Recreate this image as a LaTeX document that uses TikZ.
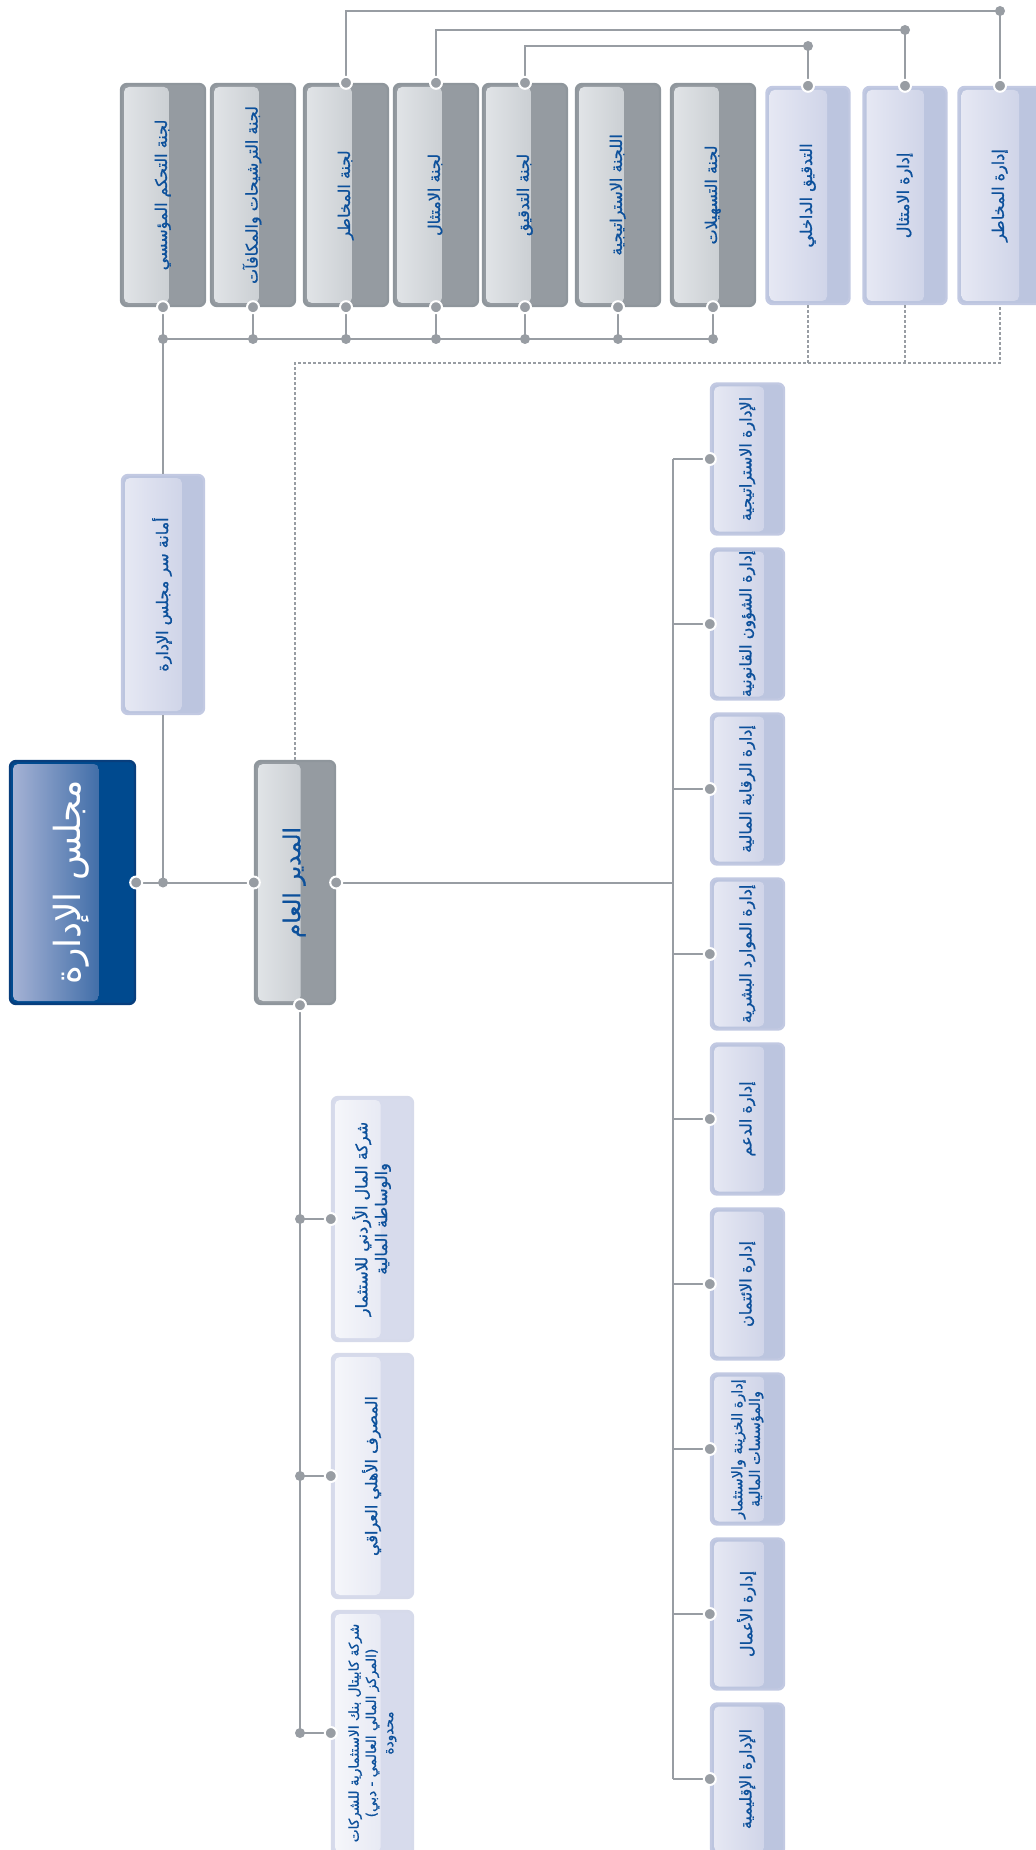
\documentclass[tikz,border=0pt]{standalone}
\usepackage{fontspec}
\usepackage{graphicx}
\usepackage{tikz}
\usetikzlibrary{positioning,calc}
\TeXXeTstate=1
\newfontfamily\arabicfont[Script=Arabic, FakeBold=1]{DejaVu Sans}
\newfontfamily\arabicplain[Script=Arabic]{DejaVu Sans}
\definecolor{CB_line}{RGB}{152,157,163}
\definecolor{CB_text}{RGB}{12,80,155}
\definecolor{CB_grayedge}{RGB}{143,150,156}
\definecolor{CB_graydark}{RGB}{149,155,161}
\definecolor{CB_graylight}{RGB}{226,229,232}
\definecolor{CB_graymid}{RGB}{186,191,196}
\definecolor{CB_blueedge}{RGB}{194,201,226}
\definecolor{CB_bluefill}{RGB}{188,197,223}
\definecolor{CB_bluelight}{RGB}{231,233,244}
\definecolor{CB_bluemid}{RGB}{199,205,228}
\definecolor{CB_subedge}{RGB}{214,218,234}
\definecolor{CB_subfill}{RGB}{215,219,236}
\definecolor{CB_sublight}{RGB}{246,247,251}
\definecolor{CB_submid}{RGB}{222,225,239}
\definecolor{CB_navy}{RGB}{0,74,143}
\definecolor{CB_navyedge}{RGB}{8,62,125}
\definecolor{CB_navylight}{RGB}{168,180,214}
\definecolor{CB_navymid}{RGB}{24,82,150}
\newcommand{\arline}[1]{\beginR #1\endR}
\newcommand{\vlabel}[1]{\rotatebox{90}{\begin{tabular}{@{}c@{}}#1\end{tabular}}}
\newcommand{\boxfont}{\arabicfont\fontsize{8pt}{9.8pt}\selectfont}
\tikzset{
  panel/.style n args={3}{path picture={
      \fill[left color=#1, right color=#2, rounded corners=2.5pt]
        ([shift={(1.5pt,-1.5pt)}]path picture bounding box.north west) rectangle
        ($(path picture bounding box.south west)!#3!(path picture bounding box.south east)+(0,1.5pt)$);}},
  orgbox/.style={rectangle, rounded corners=3pt, line width=1.2pt, inner sep=0pt,
      text=CB_text, font=\boxfont},
  gbox/.style={orgbox, draw=CB_grayedge, fill=CB_graydark, panel={CB_graylight}{CB_graymid}{0.57}},
  bbox/.style={orgbox, draw=CB_blueedge, fill=CB_bluefill, panel={CB_bluelight}{CB_bluemid}{0.73}},
  sbox/.style={orgbox, draw=CB_subedge, fill=CB_subfill, panel={CB_sublight}{CB_submid}{0.6}},
  boardbox/.style={orgbox, draw=CB_navyedge, fill=CB_navy, panel={CB_navylight}{CB_navymid}{0.71},
      text=white, font=\arabicplain\fontsize{18pt}{21pt}\selectfont},
  comsize/.style={minimum width=42pt, minimum height=111pt},
  mgmtsize/.style={minimum width=41.5pt, minimum height=108.5pt},
  deptsize/.style={minimum width=36.5pt, minimum height=75.5pt},
  subsize/.style={minimum width=40.5pt, minimum height=122pt},
  link/.style={draw=CB_line, line width=1pt},
  dotlink/.style={draw=CB_line, line width=0.7pt, dash pattern=on 1.4pt off 1.1pt},
  ringdot/.style={fill=CB_line, draw=white, line width=1pt},
  jdot/.style={fill=CB_line}
}
\begin{document}
\begin{tikzpicture}[x=0.5pt, y=-0.5pt]
  \useasboundingbox (0,0) rectangle (1035,1850);
  % Board, general manager, secretariat
  \node[boardbox, minimum width=62.5pt, minimum height=121.5pt] (board) at (72.5,882.5)
    {\vlabel{\arline{مجلس الإدارة}}};
  \node[gbox, minimum width=40pt, minimum height=121.5pt,
        font=\arabicfont\fontsize{11.5pt}{13pt}\selectfont] (gm) at (295,882.5)
    {\vlabel{\arline{المدير العام}}};
  \node[bbox, minimum width=41pt, minimum height=119.5pt] (secretary) at (163,594.5)
    {\vlabel{\arline{أمانة سر مجلس الإدارة}}};
  % Board committees
  \node[gbox, comsize] (comGov) at (163,195) {\vlabel{\arline{لجنة التحكم المؤسسي}}};
  \node[gbox, comsize] (comNom) at (253,195) {\vlabel{\arline{لجنة الترشيحات والمكافآت}}};
  \node[gbox, comsize] (comRisk) at (346,195) {\vlabel{\arline{لجنة المخاطر}}};
  \node[gbox, comsize] (comComp) at (436,195) {\vlabel{\arline{لجنة الامتثال}}};
  \node[gbox, comsize] (comAudit) at (525,195) {\vlabel{\arline{لجنة التدقيق}}};
  \node[gbox, comsize] (comStrat) at (618,195) {\vlabel{\arline{اللجنة الاستراتيجية}}};
  \node[gbox, comsize] (comCredit) at (713,195) {\vlabel{\arline{لجنة التسهيلات}}};
  % Control functions
  \node[bbox, mgmtsize] (intAudit) at (808,195.5) {\vlabel{\arline{التدقيق الداخلي}}};
  \node[bbox, mgmtsize] (compDept) at (905,195.5) {\vlabel{\arline{إدارة الامتثال}}};
  \node[bbox, mgmtsize] (riskDept) at (1000,195.5) {\vlabel{\arline{إدارة المخاطر}}};
  % Departments
  \node[bbox, deptsize] (deptStrat) at (747.5,459) {\vlabel{\arline{الإدارة الاستراتيجية}}};
  \node[bbox, deptsize] (deptLegal) at (747.5,624) {\vlabel{\arline{إدارة الشؤون القانونية}}};
  \node[bbox, deptsize] (deptFinCtl) at (747.5,789) {\vlabel{\arline{إدارة الرقابة المالية}}};
  \node[bbox, deptsize] (deptHR) at (747.5,954) {\vlabel{\arline{إدارة الموارد البشرية}}};
  \node[bbox, deptsize] (deptSupport) at (747.5,1119) {\vlabel{\arline{إدارة الدعم}}};
  \node[bbox, deptsize] (deptCredit) at (747.5,1284) {\vlabel{\arline{إدارة الائتمان}}};
  \node[bbox, deptsize, font=\arabicfont\fontsize{7.2pt}{8.8pt}\selectfont] (deptTreasury) at (747.5,1449)
    {\vlabel{\arline{إدارة الخزينة والاستثمار}\\\arline{والمؤسسات المالية}}};
  \node[bbox, deptsize] (deptBusiness) at (747.5,1614) {\vlabel{\arline{إدارة الأعمال}}};
  \node[bbox, deptsize] (deptRegional) at (747.5,1779) {\vlabel{\arline{الإدارة الإقليمية}}};
  % Subsidiaries
  \node[sbox, subsize] (subJordan) at (372.5,1219)
    {\vlabel{\arline{شركة المال الأردني للاستثمار}\\\arline{والوساطة المالية}}};
  \node[sbox, subsize] (subIraq) at (372.5,1476) {\vlabel{\arline{المصرف الأهلي العراقي}}};
  \node[sbox, subsize, font=\arabicfont\fontsize{6.8pt}{8.6pt}\selectfont] (subDubai) at (372.5,1733)
    {\vlabel{\arline{شركة كابيتال بنك الاستثمارية للشركات}\\\arline{(المركز المالي العالمي - دبي)}\\\arline{محدودة}}};
  % Helper coordinates
  \coordinate (topA) at (0,11);
  \coordinate (topB) at (0,30);
  \coordinate (topC) at (0,46);
  \coordinate (bus) at (0,339);
  \coordinate (dotY) at (0,363);
  \coordinate (deptX) at (673,0);
  \coordinate (gmBot) at ([xshift=2.5pt]gm.south);
  \coordinate (jBoard) at (secretary.south |- board.east);
  % Committee bus
  \draw[link] (comGov.south |- bus) -- (comCredit.south |- bus);
  \draw[link] (comGov.south) -- (secretary.north);
  \draw[link] (secretary.south) -- (jBoard);
  \draw[link] (comNom.south) -- (comNom.south |- bus);
  \draw[link] (comRisk.south) -- (comRisk.south |- bus);
  \draw[link] (comComp.south) -- (comComp.south |- bus);
  \draw[link] (comAudit.south) -- (comAudit.south |- bus);
  \draw[link] (comStrat.south) -- (comStrat.south |- bus);
  \draw[link] (comCredit.south) -- (comCredit.south |- bus);
  % Committees to control functions
  \draw[link] (comRisk.north) |- (riskDept.north |- topA) -- (riskDept.north);
  \draw[link] (comComp.north) |- (compDept.north |- topB) -- (compDept.north);
  \draw[link] (comAudit.north) |- (intAudit.north |- topC) -- (intAudit.north);
  % Dotted reporting line
  \draw[dotlink] (gm.north) -- (gm.north |- dotY) -| (riskDept.south);
  \draw[dotlink] (intAudit.south) -- (intAudit.south |- dotY);
  \draw[dotlink] (compDept.south) -- (compDept.south |- dotY);
  % Board to GM
  \draw[link] (board.east) -- (gm.west);
  % GM to departments
  \draw[link] (gm.east) -- (gm.east -| deptX);
  \draw[link] (deptX |- deptStrat.west) -- (deptX |- deptRegional.west);
  \foreach \d in {deptStrat,deptLegal,deptFinCtl,deptHR,deptSupport,deptCredit,deptTreasury,deptBusiness,deptRegional}
    \draw[link] (deptX |- \d.west) -- (\d.west);
  % GM to subsidiaries
  \draw[link] (gmBot) -- (gmBot |- subDubai.west);
  \draw[link] (gmBot |- subJordan.west) -- (subJordan.west);
  \draw[link] (gmBot |- subIraq.west) -- (subIraq.west);
  \draw[link] (gmBot |- subDubai.west) -- (subDubai.west);
  % Dots
  \filldraw[ringdot] (board.east) circle[radius=3pt];
  \filldraw[ringdot] (gm.west) circle[radius=3pt];
  \filldraw[ringdot] (gm.east) circle[radius=3pt];
  \filldraw[ringdot] (gmBot) circle[radius=3pt];
  \fill[jdot] (jBoard) circle[radius=2.5pt];
  \foreach \c in {comGov,comNom,comRisk,comComp,comAudit,comStrat,comCredit} {
    \filldraw[ringdot] (\c.south) circle[radius=3pt];
    \fill[jdot] (\c.south |- bus) circle[radius=2.5pt];
  }
  \filldraw[ringdot] (comRisk.north) circle[radius=3pt];
  \filldraw[ringdot] (comComp.north) circle[radius=3pt];
  \filldraw[ringdot] (comAudit.north) circle[radius=3pt];
  \filldraw[ringdot] (riskDept.north) circle[radius=3pt];
  \filldraw[ringdot] (compDept.north) circle[radius=3pt];
  \filldraw[ringdot] (intAudit.north) circle[radius=3pt];
  \fill[jdot] (riskDept.north |- topA) circle[radius=2.5pt];
  \fill[jdot] (compDept.north |- topB) circle[radius=2.5pt];
  \fill[jdot] (intAudit.north |- topC) circle[radius=2.5pt];
  \foreach \d in {deptStrat,deptLegal,deptFinCtl,deptHR,deptSupport,deptCredit,deptTreasury,deptBusiness,deptRegional}
    \filldraw[ringdot] (\d.west) circle[radius=3pt];
  \foreach \s in {subJordan,subIraq,subDubai} {
    \filldraw[ringdot] (\s.west) circle[radius=3pt];
    \fill[jdot] (gmBot |- \s.west) circle[radius=2.5pt];
  }
\end{tikzpicture}
\end{document}
